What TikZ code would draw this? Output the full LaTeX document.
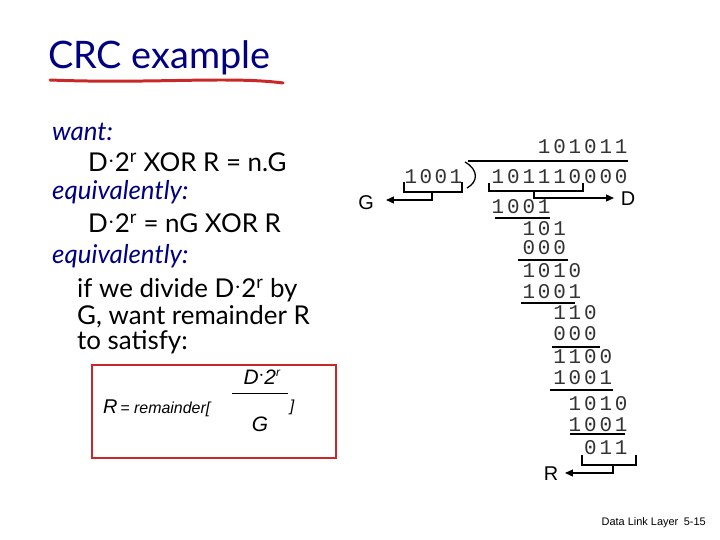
\documentclass[tikz,border=0pt]{standalone}
\usepackage{fontspec}
\setmainfont{Lato}
\newfontfamily\monof{Liberation Mono}
\newfontfamily\arialf{Liberation Sans}
\usetikzlibrary{arrows.meta}
\definecolor{ttl}{RGB}{0,0,128}
\definecolor{rd}{RGB}{200,40,40}
\begin{document}
\begin{tikzpicture}[x=1bp,y=-1bp,
  dig/.style={font=\monof\fontsize{21}{21}\selectfont\color{black!80}, inner sep=0pt, anchor=center},
  txt/.style={font=\fontsize{26}{26}\selectfont, anchor=west, inner sep=0pt},
  emtxt/.style={txt, font=\fontsize{26}{26}\selectfont\itshape, text=ttl},
  brk/.style={line width=1.3pt},
  arr/.style={line width=1.3pt, -{Triangle[length=8pt,width=7pt]}},
  ul/.style={line width=1.6pt}]
\useasboundingbox (0,0) rectangle (720,540);
% title
\node[anchor=west, inner sep=0pt, text=ttl, font=\fontsize{38}{38}\selectfont] (title) at (48,58) {CRC example};
\draw[rd, line width=3pt, line cap=round] (50,80) .. controls (150,84) and (230,76) .. (283,83);
% left text
\node[emtxt] (w) at (52,132) {want:};
\node[txt] (l1) at (88,162) {D\raisebox{0.3ex}{$\cdot$}2\textsuperscript{r} XOR R = n.G};
\node[emtxt] (e1) at (52,192) {equivalently:};
\node[txt] (l2) at (88,223) {D\raisebox{0.3ex}{$\cdot$}2\textsuperscript{r} = nG XOR R};
\node[emtxt] (e2) at (52,256) {equivalently:};
\node[txt] (l3) at (77,290) {if we divide D\raisebox{0.3ex}{$\cdot$}2\textsuperscript{r} by};
\node[txt] (l4) at (77,317) {G, want remainder R};
\node[txt] (l5) at (77,342) {to satisfy:};
% red box
\draw[rd, line width=1.2pt] (92,365) rectangle (336,458);
\node[anchor=west, inner sep=0pt, font=\arialf\itshape] (rr) at (103,408) {{\fontsize{20}{20}\selectfont R} {\fontsize{16}{16}\selectfont = remainder[}};
\node[inner sep=0pt, font=\arialf\itshape\fontsize{21}{21}\selectfont] (num) at (262,377) {D\raisebox{0.3ex}{$\cdot$}2\textsuperscript{\fontsize{12}{12}\selectfont r}};
\node[inner sep=0pt, font=\arialf\itshape\fontsize{21}{21}\selectfont] (den) at (260,424) {G};
\draw[line width=0.8pt] (232,393) -- (288,393);
\node[inner sep=0pt, font=\arialf\itshape\fontsize{16}{16}\selectfont] (cb) at (292,407) {]};
% division
\def\cx#1{498+15.4*#1}
\foreach \d [count=\i from 3] in {1,0,1,0,1,1} \node[dig] (q\i) at ({\cx{\i}},147) {\d};
\foreach \d [count=\i from 0] in {1,0,1,1,1,0,0,0,0} \node[dig] (n\i) at ({\cx{\i}},177) {\d};
\foreach \d [count=\i from 0] in {1,0,0,1} \node[dig] (g\i) at ({411+15*\i},177) {\d};
\newcommand\putrow[4]{\foreach \d [count=\k from 0] in {#1} \node[dig] (r#4\k) at ({\cx{(#3+\k)}},#2) {\d};}
\putrow{1,0,0,1}{207}{0}{a}
\putrow{1,0,1}{229}{2}{b}
\putrow{0,0,0}{248}{2}{c}
\putrow{1,0,1,0}{271}{2}{d}
\putrow{1,0,0,1}{292}{2}{e}
\putrow{1,1,0}{313}{4}{f}
\putrow{0,0,0}{334}{4}{g}
\putrow{1,1,0,0}{357}{4}{h}
\putrow{1,0,0,1}{378}{4}{i}
\putrow{1,0,1,0}{404}{5}{j}
\putrow{1,0,0,1}{425}{5}{k}
\putrow{0,1,1}{448}{6}{l}
% underlines
\draw[ul] (495,218) -- (550,218);
\draw[ul] (518,260) -- (568,260);
\draw[line width=2.2pt] (521,303) -- (575,303);
\draw[ul] (552,347) -- (600,347);
\draw[ul] (550,390) -- (613,390);
\draw[line width=2.2pt] (570,434) -- (625,434);
% division bar
\draw[brk] (468,161) -- (628,161);
\draw[brk] (465,162) .. controls (479,170) and (478,182) .. (467,188);
% G bracket
\draw[brk] (404,182) -- (404,192) -- (462,192) -- (462,182);
\node[inner sep=0pt, font=\arialf\fontsize{20}{20}\selectfont] (G) at (366,203) {G};
\coordinate (gt) at (386,200);
\draw[arr] (432,192) -- (432,200) -- (gt);
% D bracket
\draw[brk] (489,183) -- (489,191) -- (583,191) -- (583,183);
\node[inner sep=0pt, font=\arialf\fontsize{20}{20}\selectfont] (D) at (628,199) {D};
\coordinate (dt) at (614,198);
\draw[arr] (534,191) -- (534,198) -- (dt);
% R bracket
\draw[brk] (582,455) -- (582,465) -- (636,465) -- (636,455);
\node[inner sep=0pt, font=\arialf\fontsize{20}{20}\selectfont] (R) at (551,474) {R};
\coordinate (rt) at (565,473);
\draw[arr] (613,465) -- (613,473) -- (rt);
% footer
\node[anchor=east, inner sep=0pt, font=\arialf\fontsize{11}{11}\selectfont] (ft) at (706,523) {Data Link Layer\enspace 5-15};
\end{tikzpicture}
\end{document}
